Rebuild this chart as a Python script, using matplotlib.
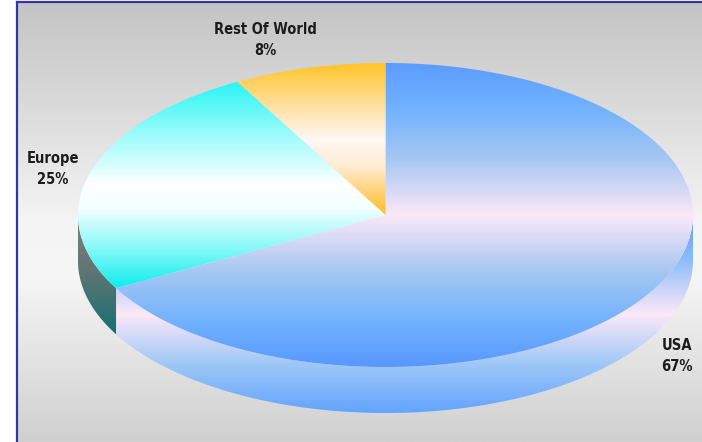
import numpy as np
import matplotlib
matplotlib.use("Agg")
import matplotlib.pyplot as plt
from matplotlib.patches import Polygon
from matplotlib.colors import LinearSegmentedColormap

# market share by region
regions = ["USA", "Europe", "Rest Of World"]
shares = [67, 25, 8]
share_labels = ["67%", "25%", "8%"]

W, H = 702, 442
cx, cy = 385.5, 215.0      # centre of the top ellipse (pixels)
rx, ry = 307.5, 152.0      # ellipse radii
depth = 46.0               # thickness of the pie

# gradient stops (top -> middle -> bottom of each piece)
top_colors = {
    "USA": [(0, "#5c9cff"), (0.15, "#72b2ff"), (0.32, "#a8c8f2"), (0.5, "#fce8f8"),
            (0.68, "#a8c8f2"), (0.85, "#72b2ff"), (1, "#5898ff")],
    "Europe": [(0, "#28f4f4"), (0.25, "#98fcfc"), (0.5, "#ffffff"), (0.62, "#f2ffff"),
               (0.82, "#80f8f8"), (1, "#10ecec")],
    "Rest Of World": [(0, "#ffc428"), (0.28, "#ffe0a0"), (0.5, "#fff8f4"),
                      (0.68, "#ffecd4"), (0.86, "#ffd070"), (1, "#ffc028")],
}
side_colors = {
    "USA": [(0, "#5c9cff"), (0.22, "#8cbcf8"), (0.5, "#fce8f8"), (0.75, "#a0c8f6"),
            (1, "#62a4ff")],
    "Europe": [(0, "#808080"), (0.5, "#5e7474"), (1, "#167070")],
    "Rest Of World": [(0, "#ffc428"), (1, "#ffc428")],
}

fig = plt.figure(figsize=(W / 100, H / 100), dpi=100)
fig.patch.set_facecolor("white")
ax = fig.add_axes([0, 0, 1, 1])
ax.set_axis_off()

# grey background panel with a blue frame
bg = LinearSegmentedColormap.from_list(
    "bg", [(0, "#c4c4c4"), (0.25, "#dcdcdc"), (0.5, "#f4f4f4"), (0.62, "#f6f6f6"),
           (1, "#d0d0d0")])
ax.imshow(np.linspace(0, 1, 256).reshape(-1, 1), cmap=bg, aspect="auto",
          extent=(17, W, H, 2), origin="upper", zorder=0)
ax.plot([17, 17], [2, H], color="#3434a8", lw=1.6, zorder=1)
ax.plot([17, W], [2, 2], color="#3434a8", lw=1.6, zorder=1)


def ell(theta):
    t = np.radians(theta)
    return cx + rx * np.cos(t), cy - ry * np.sin(t)


def fill_gradient(pts, stops, z):
    poly = Polygon(pts, closed=True, facecolor="none", edgecolor="none", zorder=z)
    ax.add_patch(poly)
    cmap = LinearSegmentedColormap.from_list("g", stops)
    x0, x1 = pts[:, 0].min(), pts[:, 0].max()
    y0, y1 = pts[:, 1].min(), pts[:, 1].max()
    im = ax.imshow(np.linspace(0, 1, 256).reshape(-1, 1), cmap=cmap, aspect="auto",
                   extent=(x0, x1, y1, y0), origin="upper", zorder=z,
                   interpolation="bilinear")
    im.set_clip_path(poly)


# slice angles: start at 12 o'clock, go clockwise
total = float(sum(shares))
spans = [360.0 * s / total for s in shares]
starts = 90.0 - np.concatenate([[0], np.cumsum(spans)[:-1]])
ends = starts - np.array(spans)

# front walls (visible where the angle lies between -180 and 0)
for name, a1, a2 in zip(regions, starts, ends):
    lo, hi = max(a2, -180.0), min(a1, 0.0)
    if hi <= lo:
        continue
    th = np.linspace(lo, hi, 200)
    xs, ys = ell(th)
    top = np.column_stack([xs, ys])
    bot = np.column_stack([xs, ys + depth])[::-1]
    fill_gradient(np.vstack([top, bot]), side_colors[name], 2)

# top faces
for name, a1, a2 in zip(regions, starts, ends):
    th = np.linspace(a1, a2, 300)
    xs, ys = ell(th)
    pts = np.vstack([[cx, cy], np.column_stack([xs, ys])])
    fill_gradient(pts, top_colors[name], 3)

# labels
label_pos = {"USA": (677, 356), "Europe": (53, 169), "Rest Of World": (265, 40)}
for name, pct in zip(regions, share_labels):
    x, y = label_pos[name]
    ax.text(x, y, f"{name}\n{pct}", ha="center", va="center", multialignment="center",
            fontsize=10.5, fontweight="bold", fontstretch="condensed", color="#1c1c1c",
            linespacing=1.45, family="DejaVu Sans", zorder=5)

ax.set_xlim(0, W)
ax.set_ylim(H, 0)
fig.savefig("out.png", dpi=100)
